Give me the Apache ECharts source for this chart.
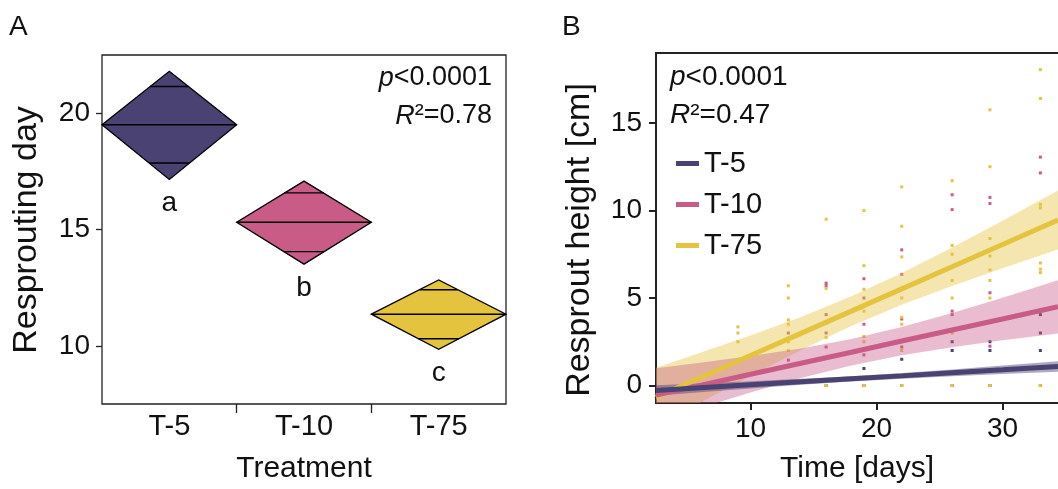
<!DOCTYPE html>
<html>
<head>
<meta charset="utf-8">
<script src="https://cdn.jsdelivr.net/npm/echarts@6/dist/echarts.min.js"></script>
<style>
  html, body { margin: 0; padding: 0; background: #fff; }
  #chart { width: 1058px; height: 489px; }
</style>
</head>
<body>
<div id="chart"></div>
<script>
// ---- shared ----
const treatments = ['T-5', 'T-10', 'T-75'];
const colors = ['#494273', '#c95b87', '#e4c43f'];

// ---- panel A: resprouting day, mean and 95% CI per treatment ----
const meanDay = [19.5, 15.31, 11.36];
const lowerDay = [17.15, 13.51, 9.85];
const upperDay = [21.8, 17.08, 12.83];
const groupLetters = ['a', 'b', 'c'];
const dayTicks = [10, 15, 20];

// ---- panel B: resprout height over time ----
const heightTicks = [0, 5, 10, 15];
const timeTicks = [10, 20, 30];
const fitX = [2.5, 6, 10, 14, 18, 22, 26, 30, 34.4];
const fitT5 = [-0.28, -0.13, 0.04, 0.21, 0.38, 0.55, 0.73, 0.90, 1.09];
const lowT5 = [-0.58, -0.39, -0.17, 0.04, 0.23, 0.39, 0.53, 0.66, 0.79];
const upT5 = [0.02, 0.12, 0.24, 0.38, 0.53, 0.71, 0.92, 1.14, 1.39];
const fitT10 = [-0.55, 0.01, 0.64, 1.27, 1.90, 2.54, 3.17, 3.80, 4.50];
const lowT10 = [-2.08, -1.28, -0.40, 0.43, 1.15, 1.73, 2.19, 2.58, 2.97];
const upT10 = [0.99, 1.30, 1.68, 2.11, 2.66, 3.34, 4.15, 5.02, 6.02];
const fitT75 = [-0.68, 0.44, 1.71, 2.98, 4.25, 5.52, 6.79, 8.06, 9.46];
const lowT75 = [-2.38, -0.99, 0.55, 2.03, 3.40, 4.61, 5.69, 6.70, 7.77];
const upT75 = [1.02, 1.87, 2.86, 3.92, 5.10, 6.43, 7.88, 9.42, 11.15];

const pointsT5 = [[16, 0], [19, 0], [19, 0.97], [22, 0], [22, 1.5], [26, 0], [26, 2.0], [26, 2.5],
  [29, 0], [29, 2.0], [29, 2.5], [33, 0], [33, 2.0], [33, 3.0], [33, 4.05]];
const pointsT10 = [[13, 3.0], [13, 1.45], [16, 5.85], [16, 5.7], [16, 4.05], [16, 3.0], [16, 2.2],
  [19, 6.1], [19, 5.0], [19, 3.5], [19, 1.75], [22, 7.75], [22, 6.35], [22, 3.8], [22, 2.2],
  [26, 10.9], [26, 10.05], [26, 4.25], [26, 4.05], [29, 10.75], [29, 10.4], [29, 5.3], [29, 2.25],
  [33, 13.05], [33, 12.15]];
const pointsT75 = [[9, 3.35], [9, 3.0], [9, 2.5], [13, 5.7], [13, 5.0], [13, 3.75], [13, 3.5], [13, 2.5], [13, 2.0],
  [16, 9.5], [16, 5.55], [16, 3.55], [16, 2.75], [16, 0],
  [19, 10.0], [19, 6.85], [19, 5.5], [19, 4.25], [19, 2.8], [19, 2.5], [19, 0],
  [22, 11.35], [22, 9.1], [22, 7.35], [22, 5.0], [22, 3.9], [22, 3.5], [22, 2.0], [22, 0],
  [26, 11.7], [26, 8.0], [26, 7.5], [26, 6.0], [26, 5.0], [26, 3.0], [26, 0],
  [29, 15.75], [29, 12.5], [29, 8.4], [29, 7.4], [29, 6.6], [29, 6.0], [29, 5.0], [29, 0],
  [33, 18.05], [33, 16.4], [33, 10.35], [33, 10.15], [33, 7.0], [33, 6.65], [33, 6.45], [33, 0]];

const FONT = "'Liberation Sans', Arial, Helvetica, sans-serif";
const INK = '#111';

const chart = echarts.init(document.getElementById('chart'), null, { renderer: 'canvas' });

// diamond: full category width, CI top/bottom, mean line and overlap marks
function renderDiamond(params, api) {
  const i = params.dataIndex;
  const mean = api.value(1), lo = api.value(2), hi = api.value(3);
  const L = api.coord([i, mean]);
  const R = api.coord([i + 1, mean]);
  const T = api.coord([i + 0.5, hi]);
  const B = api.coord([i + 0.5, lo]);
  const cx = T[0], cy = L[1];
  const halfW = (R[0] - L[0]) / 2;
  const half = (hi - lo) / 2;
  const marks = [mean + half / Math.SQRT2, mean - half / Math.SQRT2];
  const children = [{
    type: 'polygon',
    shape: { points: [L, T, R, B] },
    style: { fill: colors[i], stroke: '#000', lineWidth: 1.3 }
  }, {
    type: 'line',
    shape: { x1: L[0], y1: cy, x2: R[0], y2: cy },
    style: { stroke: '#000', lineWidth: 1.4 }
  }];
  marks.forEach(function (m) {
    const py = api.coord([i + 0.5, m])[1];
    const frac = py < cy ? (py - T[1]) / (cy - T[1]) : (B[1] - py) / (B[1] - cy);
    const w = halfW * frac;
    children.push({
      type: 'line',
      shape: { x1: cx - w, y1: py, x2: cx + w, y2: py },
      style: { stroke: '#000', lineWidth: 1.4 }
    });
  });
  children.push({
    type: 'text',
    x: cx, y: B[1] + 24,
    style: {
      text: groupLetters[i], fill: INK, fontSize: 28, fontFamily: FONT,
      align: 'center', verticalAlign: 'middle'
    }
  });
  return { type: 'group', children: children };
}

// confidence band drawn as one polygon from the band arrays
function bandSeries(lower, upper, color, alpha) {
  return {
    type: 'custom',
    xAxisIndex: 1, yAxisIndex: 1,
    clip: true,
    z: 3,
    silent: true,
    data: fitX.map(function (x, k) { return [x, lower[k], upper[k]]; }),
    encode: { x: 0, y: [1, 2] },
    renderItem: function (params, api) {
      if (params.dataIndex !== 0) return null;
      const top = fitX.map(function (x, k) { return api.coord([x, upper[k]]); });
      const bot = fitX.map(function (x, k) { return api.coord([x, lower[k]]); }).reverse();
      return {
        type: 'polygon',
        shape: { points: top.concat(bot) },
        style: { fill: echarts.color.modifyAlpha(color, alpha) }
      };
    }
  };
}

function fitSeries(name, fit, color) {
  return {
    name: name,
    type: 'line',
    xAxisIndex: 1, yAxisIndex: 1,
    clip: true,
    z: 4,
    showSymbol: false,
    silent: true,
    data: fitX.map(function (x, k) { return [x, fit[k]]; }),
    itemStyle: { color: color },
    lineStyle: { color: color, width: 5 }
  };
}

function pointSeries(points, color) {
  return {
    type: 'scatter',
    xAxisIndex: 1, yAxisIndex: 1,
    symbol: 'rect',
    symbolSize: 3,
    z: 2,
    silent: true,
    itemStyle: { color: color, opacity: 1 },
    data: points
  };
}

const tickLabel = { color: INK, fontSize: 28, fontFamily: FONT };
const catLabel = { color: INK, fontSize: 29, fontFamily: FONT };
const titleText = { color: INK, fontSize: 30, fontFamily: FONT };

const option = {
  animation: false,
  backgroundColor: '#fff',
  grid: [
    { left: 102, top: 55, width: 404, height: 351, show: true, borderColor: '#222', borderWidth: 1.3, backgroundColor: 'transparent' },
    { left: 656, top: 53, width: 402, height: 350 }
  ],
  xAxis: [
    {
      gridIndex: 0, type: 'value', min: 0, max: 3,
      axisLine: { show: false },
      splitLine: { show: false },
      axisTick: { show: true, customValues: [1, 2], length: 9, lineStyle: { color: '#222', width: 1.3 } },
      axisLabel: {
        customValues: [0.5, 1.5, 2.5], margin: 8,
        formatter: function (v) { return treatments[Math.floor(v)]; },
        ...catLabel
      },
      name: 'Treatment', nameLocation: 'middle', nameGap: 50, nameTextStyle: titleText
    },
    {
      gridIndex: 1, type: 'value', min: 2.5, max: 34.4,
      axisLine: { show: true, onZero: false, lineStyle: { color: '#222', width: 2 } },
      splitLine: { show: false },
      axisTick: { show: true, customValues: timeTicks, length: 7, lineStyle: { color: '#222', width: 2 } },
      axisLabel: { customValues: timeTicks, margin: 12, ...tickLabel },
      name: 'Time [days]', nameLocation: 'middle', nameGap: 51, nameTextStyle: titleText
    },
    {
      gridIndex: 1, type: 'value', position: 'top', min: 2.5, max: 34.4,
      axisLine: { show: true, onZero: false, lineStyle: { color: '#222', width: 2 } },
      splitLine: { show: false }, axisTick: { show: false }, axisLabel: { show: false }
    }
  ],
  yAxis: [
    {
      gridIndex: 0, type: 'value', min: 7.5, max: 22.5,
      axisLine: { show: false },
      splitLine: { show: false },
      axisTick: { show: true, customValues: dayTicks, length: 6, lineStyle: { color: '#222', width: 1.3 } },
      axisLabel: { customValues: dayTicks, margin: 12, ...tickLabel }
    },
    {
      gridIndex: 1, type: 'value', min: -1, max: 19,
      axisLine: { show: true, onZero: false, lineStyle: { color: '#222', width: 2 } },
      splitLine: { show: false },
      axisTick: { show: true, customValues: heightTicks, length: 7, lineStyle: { color: '#222', width: 2 } },
      axisLabel: { customValues: heightTicks, margin: 14, ...tickLabel }
    }
  ],
  legend: {
    data: treatments,
    orient: 'vertical',
    left: 671, top: 144,
    icon: 'rect',
    itemWidth: 23, itemHeight: 5,
    itemGap: 12,
    selectedMode: false,
    textStyle: { color: INK, fontSize: 29, fontFamily: FONT, lineHeight: 29 }
  },
  graphic: [
    { type: 'text', x: 9, y: 27, style: { text: 'A', fill: INK, fontSize: 28, fontFamily: FONT, align: 'left', verticalAlign: 'middle' } },
    { type: 'text', x: 562, y: 27, style: { text: 'B', fill: INK, fontSize: 28, fontFamily: FONT, align: 'left', verticalAlign: 'middle' } },
    { type: 'text', x: 27, y: 230, rotation: Math.PI / 2,
      style: { text: 'Resprouting day', fill: INK, fontSize: 34, fontFamily: FONT, align: 'center', verticalAlign: 'middle' } },
    { type: 'text', x: 580, y: 240, rotation: Math.PI / 2,
      style: { text: 'Resprout height [cm]', fill: INK, fontSize: 34, fontFamily: FONT, align: 'center', verticalAlign: 'middle' } },
    { type: 'text', x: 492, y: 78,
      style: { text: '{i|p}<0.0001', fill: INK, fontSize: 27, fontFamily: FONT, align: 'right', verticalAlign: 'middle',
        rich: { i: { fontStyle: 'italic', fontSize: 27, fontFamily: FONT, fill: INK } } } },
    { type: 'text', x: 492, y: 116,
      style: { text: '{i|R}\u00b2=0.78', fill: INK, fontSize: 27, fontFamily: FONT, align: 'right', verticalAlign: 'middle',
        rich: { i: { fontStyle: 'italic', fontSize: 27, fontFamily: FONT, fill: INK } } } },
    { type: 'text', x: 670, y: 77,
      style: { text: '{i|p}<0.0001', fill: INK, fontSize: 28, fontFamily: FONT, align: 'left', verticalAlign: 'middle',
        rich: { i: { fontStyle: 'italic', fontSize: 28, fontFamily: FONT, fill: INK } } } },
    { type: 'text', x: 670, y: 115,
      style: { text: '{i|R}\u00b2=0.47', fill: INK, fontSize: 28, fontFamily: FONT, align: 'left', verticalAlign: 'middle',
        rich: { i: { fontStyle: 'italic', fontSize: 28, fontFamily: FONT, fill: INK } } } }
  ],
  series: [
    {
      type: 'custom',
      xAxisIndex: 0, yAxisIndex: 0,
      silent: true,
      data: treatments.map(function (t, i) { return [i, meanDay[i], lowerDay[i], upperDay[i]]; }),
      encode: { x: 0, y: [1, 2, 3] },
      renderItem: renderDiamond
    },
    pointSeries(pointsT5, colors[0]),
    pointSeries(pointsT10, colors[1]),
    pointSeries(pointsT75, colors[2]),
    bandSeries(lowT75, upT75, colors[2], 0.42),
    bandSeries(lowT10, upT10, colors[1], 0.4),
    bandSeries(lowT5, upT5, colors[0], 0.45),
    fitSeries('T-75', fitT75, colors[2]),
    fitSeries('T-10', fitT10, colors[1]),
    fitSeries('T-5', fitT5, colors[0])
  ]
};

chart.setOption(option);
</script>
</body>
</html>
